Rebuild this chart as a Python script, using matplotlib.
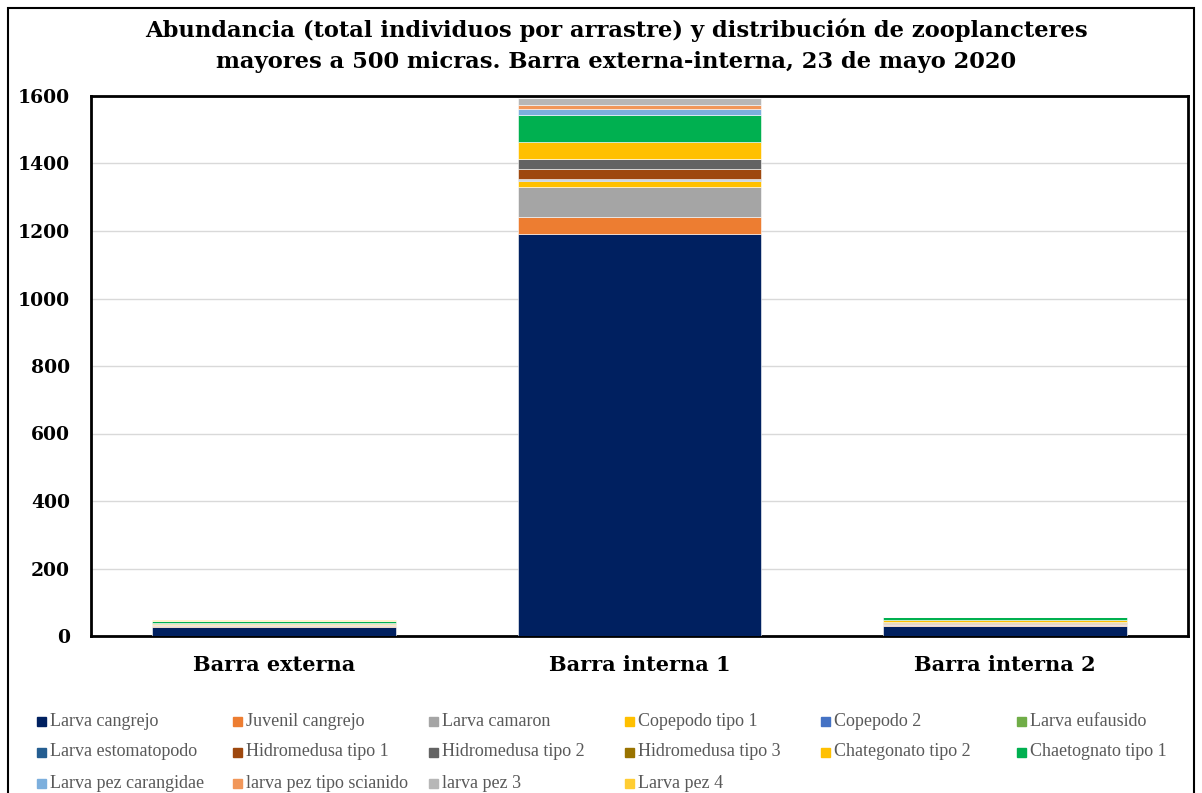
import matplotlib
matplotlib.use("Agg")
import matplotlib.pyplot as plt
import matplotlib.patches as mpatches
import numpy as np

# Stations (x categories)
stations = ["Barra externa", "Barra interna 1", "Barra interna 2"]

# Series (bottom to top of stack) and their values per station
species = ["Larva cangrejo", "Juvenil cangrejo", "Larva camaron", "Copepodo tipo 1",
           "Copepodo 2", "Larva eufausido", "Larva estomatopodo", "Hidromedusa tipo 1",
           "Hidromedusa tipo 2", "Hidromedusa tipo 3", "Chategonato tipo 2",
           "Chaetognato tipo 1", "Larva pez carangidae", "larva pez tipo scianido",
           "larva pez 3", "Larva pez 4"]

larva_cangrejo = [28, 1192, 29]
juvenil_cangrejo = [3, 50, 5]
larva_camaron = [2, 88, 3]
copepodo_tipo1 = [3, 19, 0]
copepodo_2 = [0, 3, 0]
larva_eufausido = [0, 0, 0]
larva_estomatopodo = [0, 2, 0]
hidromedusa_tipo1 = [0, 31, 2]
hidromedusa_tipo2 = [0, 29, 0]
hidromedusa_tipo3 = [2, 0, 3]
chategonato_tipo2 = [2, 50, 6]
chaetognato_tipo1 = [5, 80, 7]
larva_pez_carangidae = [0, 18, 0]
larva_pez_scianido = [0, 12, 0]
larva_pez_3 = [0, 20, 0]
larva_pez_4 = [2, 0, 0]

values = [larva_cangrejo, juvenil_cangrejo, larva_camaron, copepodo_tipo1, copepodo_2,
          larva_eufausido, larva_estomatopodo, hidromedusa_tipo1, hidromedusa_tipo2,
          hidromedusa_tipo3, chategonato_tipo2, chaetognato_tipo1, larva_pez_carangidae,
          larva_pez_scianido, larva_pez_3, larva_pez_4]

colors = ["#002060", "#ED7D31", "#A5A5A5", "#FFC000", "#4472C4", "#70AD47",
          "#255E91", "#9E480E", "#636363", "#997300", "#FFC000", "#00B050",
          "#7CAFDD", "#F1975A", "#B7B7B7", "#FFCD33"]

serif = "DejaVu Serif"
W, H = 1202, 793

fig = plt.figure(figsize=(W / 100, H / 100), dpi=100)
ax = fig.add_axes([91 / W, 1 - 636 / H, (1188 - 91) / W, (636 - 96) / H])

x = np.arange(len(stations))
bottom = np.zeros(len(stations))
for vals, col in zip(values, colors):
    vals = np.array(vals, dtype=float)
    ax.bar(x, vals, width=0.667, bottom=bottom, color=col, edgecolor="white",
           linewidth=0.4, zorder=3)
    bottom += vals

ax.set_xlim(-0.5, 2.5)
ax.set_ylim(0, 1600)
ax.set_yticks(np.arange(0, 1601, 200))
ax.grid(axis="y", color="#D9D9D9", linewidth=1, zorder=0)
ax.tick_params(length=0)
ax.set_xticks(x)
ax.set_xticklabels(stations, fontfamily=serif, fontweight="bold", fontsize=15)
for lab in ax.get_yticklabels():
    lab.set_fontfamily(serif)
    lab.set_fontweight("bold")
    lab.set_fontsize(13.5)
ax.tick_params(axis="y", pad=15)
ax.tick_params(axis="x", pad=14)
for sp in ax.spines.values():
    sp.set_linewidth(2)
    sp.set_color("black")

title_x = 616 / W
fig.text(title_x, 1 - 30 / H, "Abundancia (total individuos por arrastre) y distribución de zooplancteres",
         ha="center", va="center", fontfamily=serif, fontweight="bold", fontsize=16.3)
fig.text(title_x, 1 - 62 / H, "mayores a 500 micras. Barra externa-interna, 23 de mayo 2020",
         ha="center", va="center", fontfamily=serif, fontweight="bold", fontsize=16.3)

# legend laid out like Excel: equal-width columns, filled row by row
col_x = [37 + 196 * c for c in range(6)]
row_y = [721, 752, 783]
for i, (name, col) in enumerate(zip(species, colors)):
    r, c = divmod(i, 6)
    fig.patches.append(mpatches.Rectangle((col_x[c] / W, 1 - (row_y[r] + 4.5) / H), 9 / W, 9 / H,
                                          transform=fig.transFigure, color=col))
    fig.text((col_x[c] + 13) / W, 1 - row_y[r] / H, name, ha="left", va="center",
             fontfamily="Liberation Serif", fontsize=13, color="#595959")

# outer chart border
fig.patches.append(mpatches.Rectangle((8 / W, -0.05), 1186 / W, 1.05 - 8 / H,
                                      transform=fig.transFigure, fill=False,
                                      edgecolor="black", linewidth=1.5))

fig.savefig("out.png", dpi=100)
